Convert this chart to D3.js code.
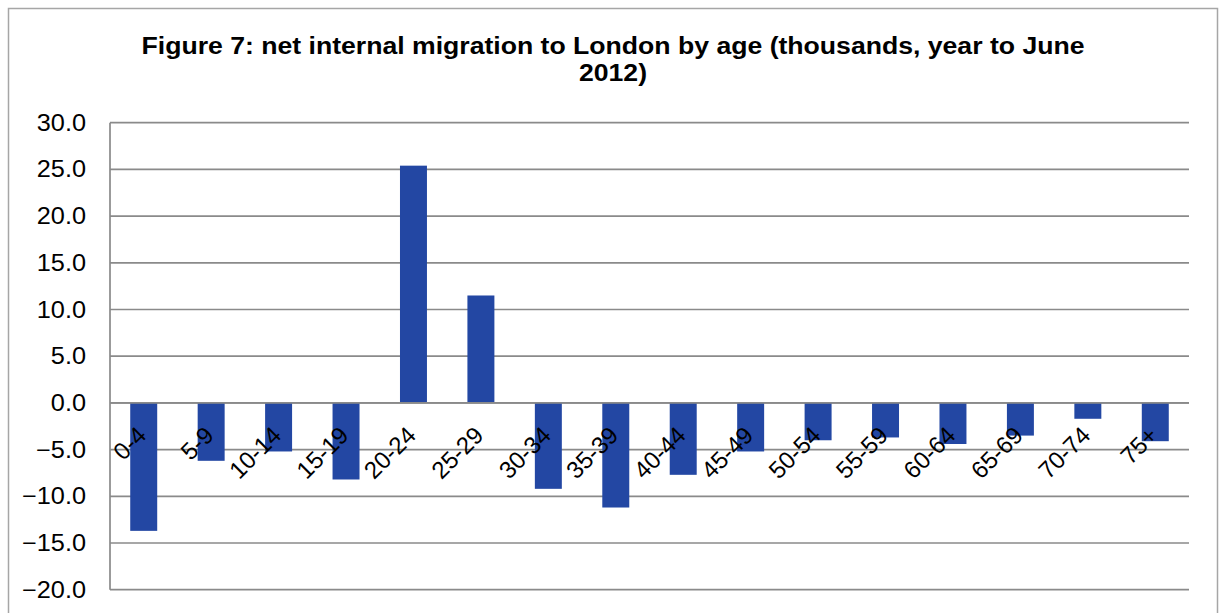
<!DOCTYPE html>
<html>
<head>
<meta charset="utf-8">
<script src="https://cdn.jsdelivr.net/npm/d3@7"></script>
<style>
  html, body { margin: 0; padding: 0; background: #fff; }
  svg { display: block; font-family: "Liberation Sans", Arial, sans-serif; }
</style>
</head>
<body>
<svg id="chart" width="1223" height="613"></svg>
<script>
// Net internal migration to London by age group, thousands, year to June 2012
const ageGroups = ["0-4", "5-9", "10-14", "15-19", "20-24", "25-29", "30-34", "35-39",
                   "40-44", "45-49", "50-54", "55-59", "60-64", "65-69", "70-74", "75+"];
const netMigration = [-13.7, -6.2, -5.2, -8.2, 25.4, 11.5, -9.2, -11.2,
                      -7.7, -5.2, -4.0, -3.7, -4.4, -3.5, -1.7, -4.1];
const yTicks = [-20, -15, -10, -5, 0, 5, 10, 15, 20, 25, 30];
const titleLines = ["Figure 7: net internal migration to London by age (thousands, year to June", "2012)"];

const svg = d3.select("#chart");
const W = 1223, H = 613;
const plot = { left: 110, right: 1189, top: 122.7, bottom: 589.7 };
const stretch = 1.1;   // title and value labels are drawn slightly widened

// outer frame
svg.append("rect")
  .attr("x", 8.5).attr("y", 8.5)
  .attr("width", 1209).attr("height", H + 10)
  .attr("fill", "#fff").attr("stroke", "#a6a6a6").attr("stroke-width", 1.5);

// title
const cxTitle = 613;
svg.append("g").selectAll("text").data(titleLines).join("text")
  .attr("transform", (d, i) => `translate(${cxTitle},${54 + i * 27}) scale(${stretch},1)`)
  .attr("text-anchor", "middle")
  .attr("font-weight", "bold")
  .attr("font-size", 24.2)
  .attr("fill", "#000")
  .text(d => d);

const x = d3.scaleBand().domain(ageGroups).range([plot.left, plot.right])
  .paddingInner(0.6).paddingOuter(0.3);
const y = d3.scaleLinear().domain([-20, 30]).range([plot.bottom, plot.top]);

// horizontal gridlines
svg.append("g").selectAll("line").data(yTicks).join("line")
  .attr("x1", plot.left).attr("x2", plot.right)
  .attr("y1", d => y(d)).attr("y2", d => y(d))
  .attr("stroke", "#8a8a8a").attr("stroke-width", 1.7);

// value axis labels
svg.append("g").selectAll("text").data(yTicks).join("text")
  .attr("transform", d => `translate(86,${y(d)}) scale(${stretch},1)`)
  .attr("dy", "0.35em")
  .attr("text-anchor", "end")
  .attr("font-size", 23)
  .attr("fill", "#000")
  .text(d => d3.format(".1f")(d));

// vertical axis line
svg.append("line")
  .attr("x1", plot.left).attr("x2", plot.left)
  .attr("y1", plot.top).attr("y2", plot.bottom)
  .attr("stroke", "#8a8a8a").attr("stroke-width", 1.7);

// bars
svg.append("g").selectAll("rect").data(ageGroups).join("rect")
  .attr("x", d => x(d))
  .attr("width", x.bandwidth())
  .attr("y", (d, i) => y(Math.max(0, netMigration[i])))
  .attr("height", (d, i) => Math.abs(y(netMigration[i]) - y(0)))
  .attr("fill", "#2347a3");

// zero line drawn over bar tops
svg.append("line")
  .attr("x1", plot.left).attr("x2", plot.right)
  .attr("y1", y(0)).attr("y2", y(0))
  .attr("stroke", "#8a8a8a").attr("stroke-width", 1.7);

// category labels, rotated 45 degrees
svg.append("g").selectAll("text").data(ageGroups).join("text")
  .attr("transform", d => `translate(${x(d) + x.bandwidth() / 2 + 4},${y(0) + 34}) rotate(-45)`)
  .attr("text-anchor", "end")
  .attr("font-size", 24)
  .attr("fill", "#000")
  .text(d => d);
</script>
</body>
</html>
